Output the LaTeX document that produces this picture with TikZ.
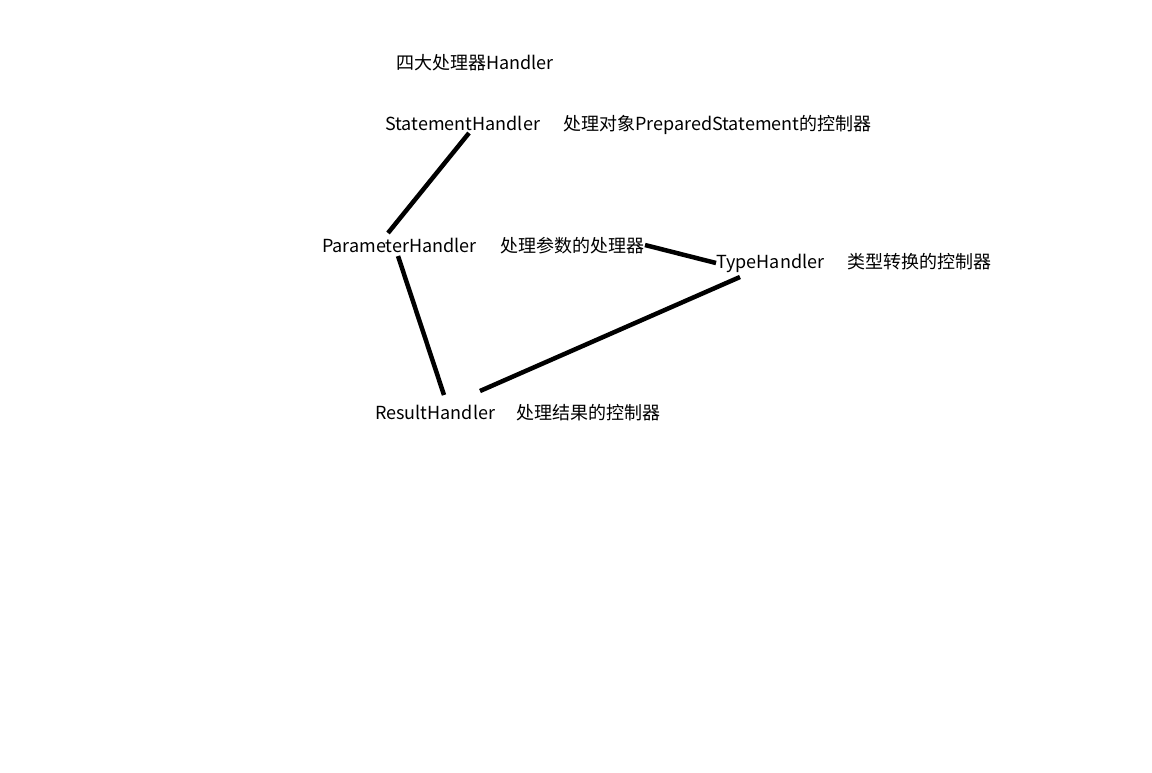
\documentclass[tikz,border=0pt]{standalone}
\usepackage{fontspec}
\setmainfont{Noto Sans CJK SC}
\begin{document}
\begin{tikzpicture}[x=1pt,y=1pt,
  lbl/.style={anchor=base west,inner sep=0pt,font=\fontsize{18}{22}\selectfont},
  conn/.style={line width=4.5pt,black}]
\useasboundingbox (0,0) rectangle (1152,-772);
\fill[white] (0,0) rectangle (1152,-772);
\node[lbl] (title) at (396,-69) {四大处理器Handler};
\node[lbl] (stmt) at (385,-130) {StatementHandler};
\node[lbl] (stmtd) at (563,-130) {处理对象PreparedStatement的控制器};
\node[lbl] (param) at (322,-252) {ParameterHandler};
\node[lbl] (paramd) at (500,-252) {处理参数的处理器};
\node[lbl] (type) at (716,-268) {TypeHandler};
\node[lbl] (typed) at (847,-268) {类型转换的控制器};
\node[lbl] (result) at (375,-419) {ResultHandler};
\node[lbl] (resultd) at (516,-419) {处理结果的控制器};
\draw[conn] ([shift={(84,-3)}]stmt.base west) -- ([shift={(66,19)}]param.base west);
\draw[conn] ([shift={(76,-4)}]param.base west) -- ([shift={(69,24)}]result.base west);
\draw[conn] ([shift={(105,28)}]result.base west) -- ([shift={(24,-9)}]type.base west);
\draw[conn] ([shift={(145,7)}]paramd.base west) -- ([shift={(0,5)}]type.base west);
\end{tikzpicture}
\end{document}
